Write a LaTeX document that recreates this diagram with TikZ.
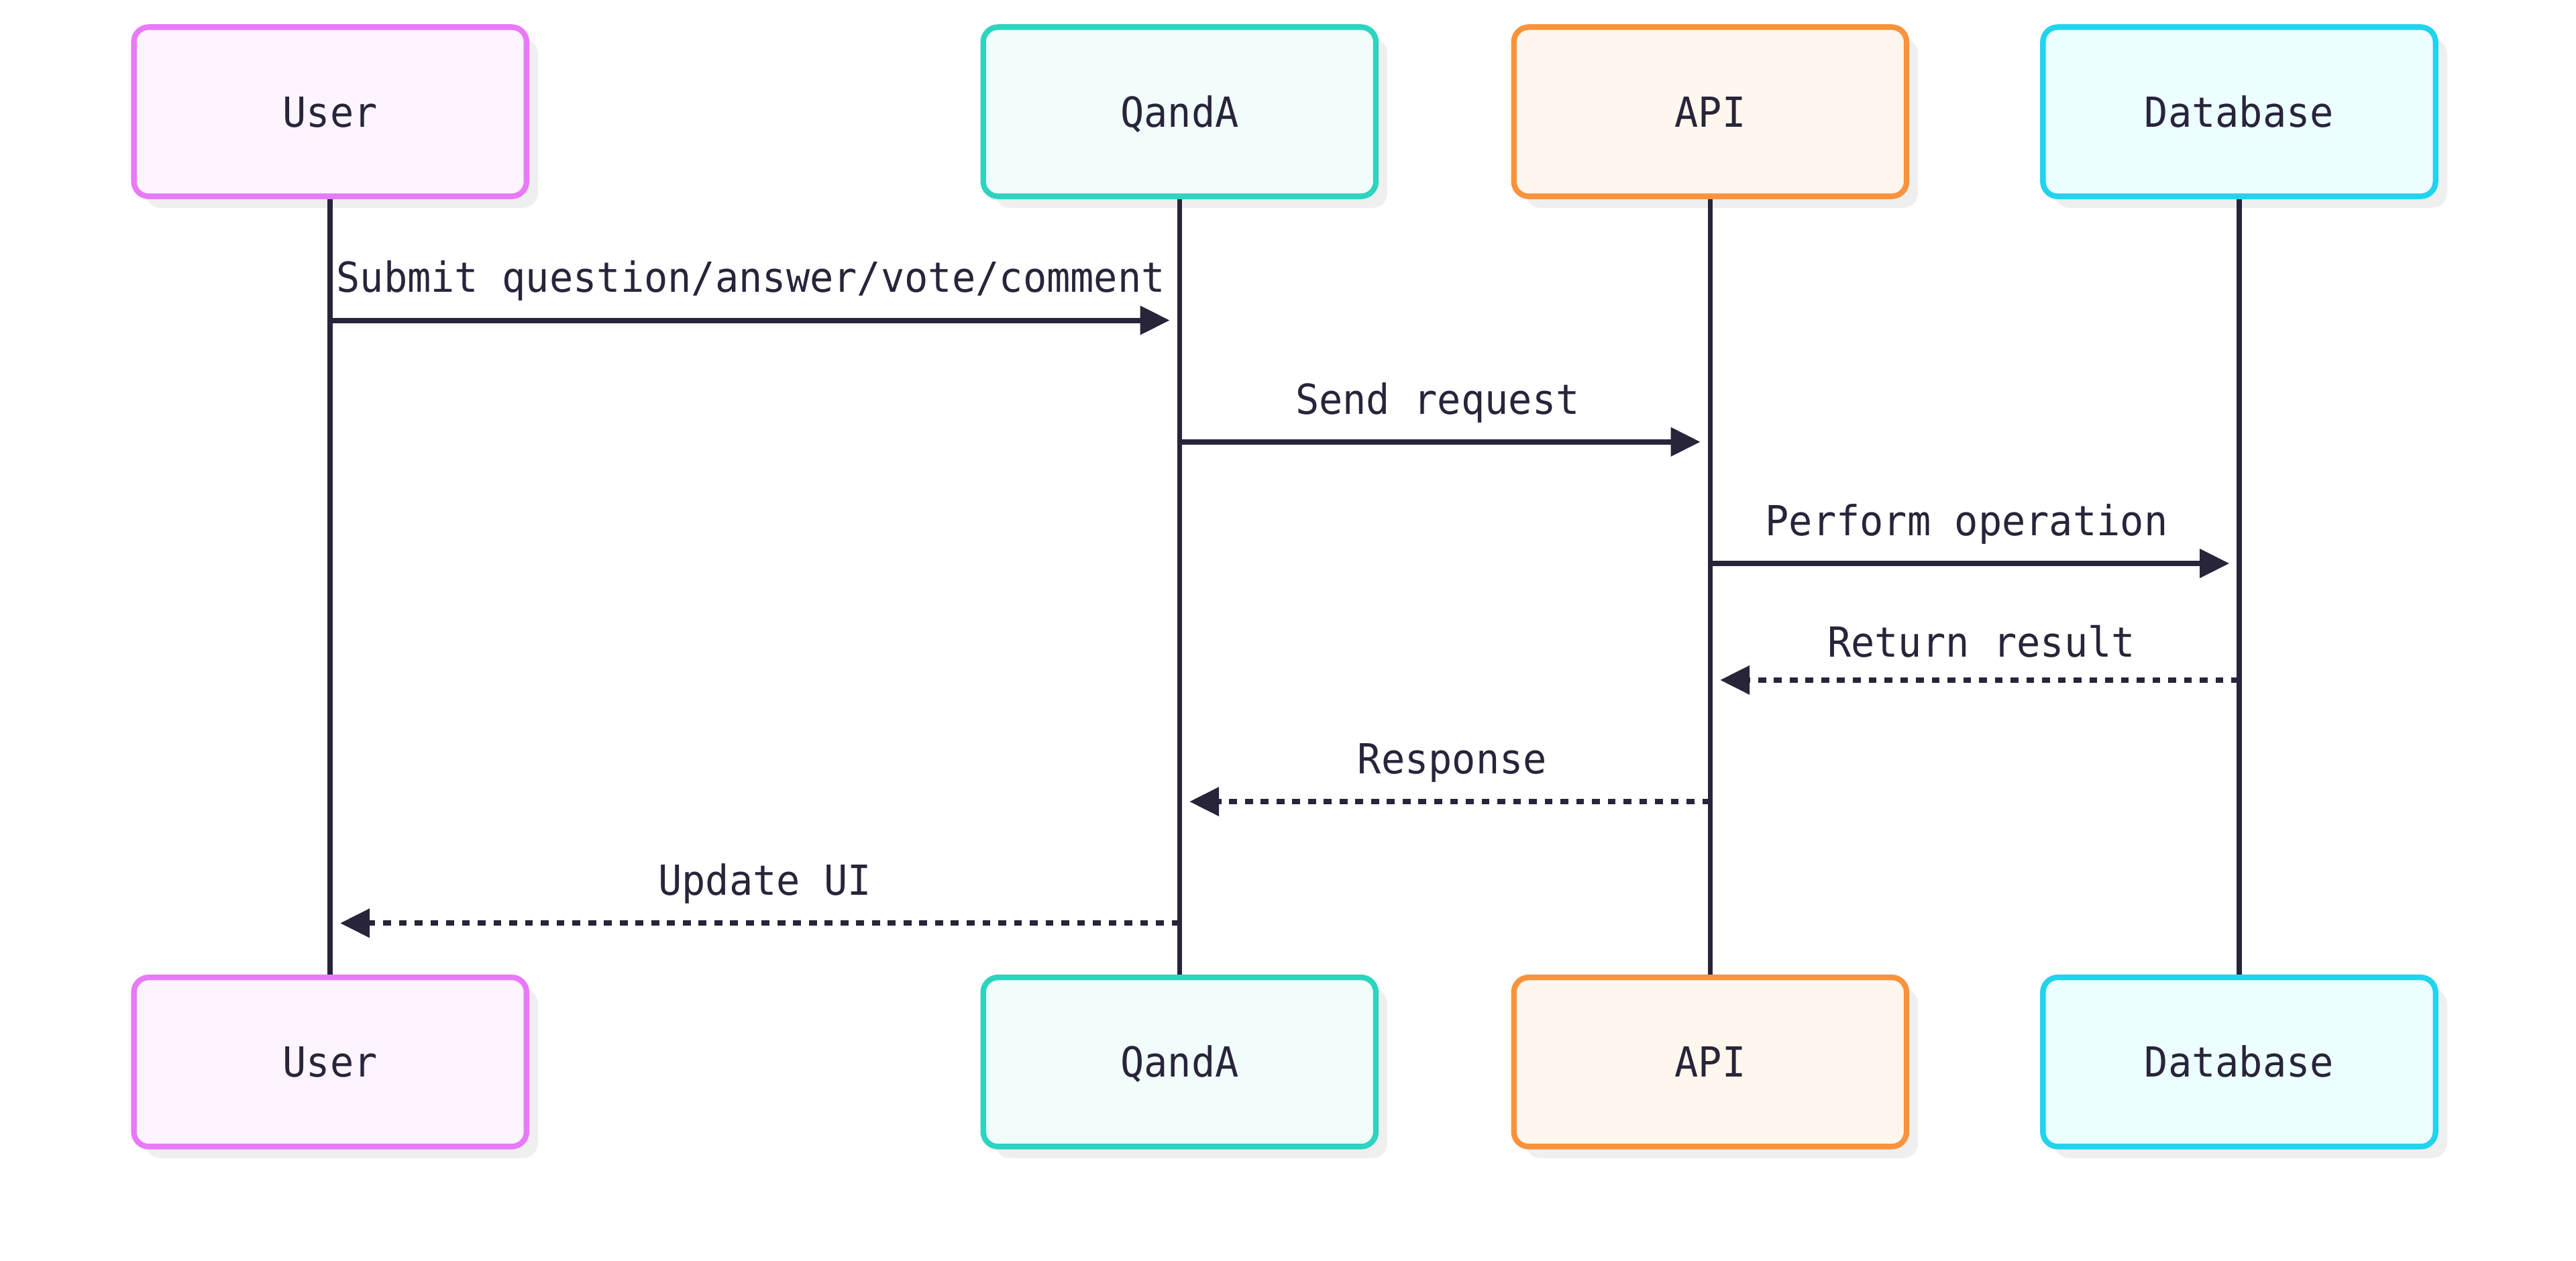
\documentclass[tikz,border=0pt]{standalone}
\usepackage{fontspec}
\setmainfont[FakeStretch=0.95]{DejaVu Sans Mono}
\usetikzlibrary{arrows.meta,shadows}
\definecolor{ink}{HTML}{28243A}
\definecolor{shade}{HTML}{EFEFEF}
\definecolor{userS}{HTML}{E879F9}\definecolor{userF}{HTML}{FDF4FF}
\definecolor{qaS}{HTML}{2DD4BF}\definecolor{qaF}{HTML}{F0FDFA}
\definecolor{apiS}{HTML}{FB923C}\definecolor{apiF}{HTML}{FFF7ED}
\definecolor{dbS}{HTML}{22D3EE}\definecolor{dbF}{HTML}{ECFEFF}
\tikzset{
  actor/.style={draw, line width=3.4pt, rounded corners=9pt, minimum width=239pt, minimum height=103pt,
    inner sep=0pt, text=ink, font=\fontsize{25.2}{30}\selectfont, text height=18.4pt, text depth=0pt,
    drop shadow={shadow xshift=7pt, shadow yshift=-7pt, fill=shade, opacity=1}},
  usr/.style={actor, draw=userS, fill=userF},
  qa/.style={actor, draw=qaS, fill=qaF},
  api/.style={actor, draw=apiS, fill=apiF},
  db/.style={actor, draw=dbS, fill=dbF},
  life/.style={draw=ink, line width=3.1pt},
  msg/.style={draw=ink, line width=3.3pt, -{Triangle[length=18pt,width=17pt]}, shorten >=6pt},
  reply/.style={msg, dash pattern=on 4.8pt off 4.8pt},
  lbl/.style={text=ink, font=\fontsize{25.2}{30}\selectfont, anchor=base, inner sep=0pt},
}
\begin{document}
\begin{tikzpicture}[x=1pt,y=-1pt]
\useasboundingbox (0,0) rectangle (1568,767.3);
% actor boxes
\node[usr] (u1) at (201,68) {User};
\node[qa]  (q1) at (718,68) {QandA};
\node[api] (a1) at (1041,68) {API};
\node[db]  (d1) at (1363,68) {Database};
\node[usr] (u2) at (201,646.5) {User};
\node[qa]  (q2) at (718,646.5) {QandA};
\node[api] (a2) at (1041,646.5) {API};
\node[db]  (d2) at (1363,646.5) {Database};
% lifelines
\draw[life] (u1.south) -- (u2.north);
\draw[life] (q1.south) -- (q2.north);
\draw[life] (a1.south) -- (a2.north);
\draw[life] (d1.south) -- (d2.north);
% messages
\draw[msg] (u1.south |- 0,195) -- (q1.south |- 0,195);
\node[lbl] (l1) at (457,178) {Submit question/answer/vote/comment};
\draw[msg] (q1.south |- 0,269) -- (a1.south |- 0,269);
\node[lbl] (l2) at (875,252) {Send request};
\draw[msg] (a1.south |- 0,343) -- (d1.south |- 0,343);
\node[lbl] (l3) at (1197,326) {Perform operation};
\draw[reply] (d1.south |- 0,414) -- (a1.south |- 0,414);
\node[lbl] (l4) at (1206,400) {Return result};
\draw[reply] (a1.south |- 0,488) -- (q1.south |- 0,488);
\node[lbl] (l5) at (884,471) {Response};
\draw[reply] (q1.south |- 0,562) -- (u1.south |- 0,562);
\node[lbl] (l6) at (465.5,545) {Update UI};
\end{tikzpicture}
\end{document}
